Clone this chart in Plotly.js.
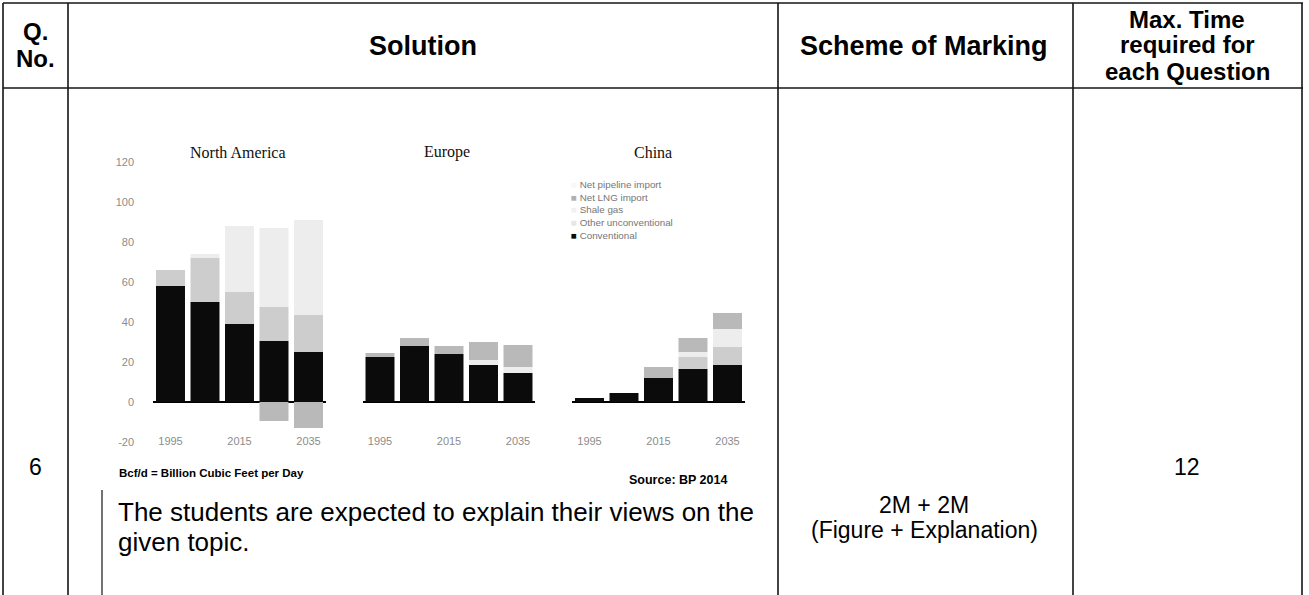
<!DOCTYPE html>
<html>
<head>
<meta charset="utf-8">
<script src="https://cdn.plot.ly/plotly-3.0.1.min.js"></script>
<style>html,body{margin:0;padding:0;background:#fff;}#chart{width:1309px;height:595px;}</style>
</head>
<body>
<div id="chart"></div>
<script>
// ---------- data (Bcf/d) ----------
const years = ['1995', '2005', '2015', '2025', '2035'];
const yearTicks = ['1995', '2015', '2035'];
const yTickVals = [-20, 0, 20, 40, 60, 80, 100, 120];
const yTickText = ['-20', '0', '20', '40', '60', '80', '100', '120'];
const regions = ['North America', 'Europe', 'China'];
const seriesNames = ['Net pipeline import', 'Net LNG import', 'Shale gas', 'Other unconventional', 'Conventional'];

const naConventional = [58, 50, 39, 30.5, 25];
const naOtherUnconv  = [8, 22, 16, 17, 18.5];
const naShale        = [0, 2, 33, 39.5, 47.5];
const naLNG          = [0, 0, 0, -9.5, -13];
const naPipeline     = [0, 0, 0, 0, 0];

const euConventional = [22.5, 28, 24, 18.5, 14.5];
const euOtherUnconv  = [0, 0, 0, 0, 0];
const euShale        = [0, 0, 0, 2.5, 3];
const euLNG          = [2, 4, 4, 9, 11];
const euPipeline     = [0, 0, 0, 0, 0];

const cnConventional = [2, 4.5, 12, 16.5, 18.5];
const cnOtherUnconv  = [0, 0, 0, 6, 9];
const cnShale        = [0, 0, 0, 2.5, 9];
const cnLNG          = [0, 0, 5.5, 7, 8];
const cnPipeline     = [0, 0, 0, 0, 0];

const headerQ = ['Q.', 'No.'];
const headerSolution = 'Solution';
const headerScheme = 'Scheme of Marking';
const headerTime = ['Max. Time', 'required for', 'each Question'];
const rowNumber = '6';
const rowScheme = ['2M + 2M', '(Figure + Explanation)'];
const rowTime = '12';
const bodyLines = ['The students are expected to explain their views on the', 'given topic.'];
const unitNote = 'Bcf/d = Billion Cubic Feet per Day';
const sourceNote = 'Source: BP 2014';

// ---------- styling ----------
const W = 1309, H = 595;
const fx = p => p / W;
const fy = p => 1 - p / H;
const SANS = 'Liberation Sans, Arial, sans-serif';
const colors = {
  'Conventional': '#0b0b0b',
  'Other unconventional': '#cdcdcd',
  'Shale gas': '#ededed',
  'Net LNG import': '#b9b9b9',
  'Net pipeline import': '#fbfbfb'
};
const legendSwatch = {
  'Conventional': '#0b0b0b',
  'Other unconventional': '#e6e6e6',
  'Shale gas': '#f2f2f2',
  'Net LNG import': '#b0b0b0',
  'Net pipeline import': '#f7f7f7'
};

const regionData = [
  {xa: 'x',  v: {'Conventional': naConventional, 'Other unconventional': naOtherUnconv, 'Shale gas': naShale, 'Net LNG import': naLNG, 'Net pipeline import': naPipeline}},
  {xa: 'x2', v: {'Conventional': euConventional, 'Other unconventional': euOtherUnconv, 'Shale gas': euShale, 'Net LNG import': euLNG, 'Net pipeline import': euPipeline}},
  {xa: 'x3', v: {'Conventional': cnConventional, 'Other unconventional': cnOtherUnconv, 'Shale gas': cnShale, 'Net LNG import': cnLNG, 'Net pipeline import': cnPipeline}}
];
const stackOrder = seriesNames.slice().reverse(); // bottom to top

const traces = [];
regionData.forEach(r => {
  stackOrder.forEach(name => {
    traces.push({
      type: 'bar', name: name, x: years, y: r.v[name],
      xaxis: r.xa, yaxis: 'y',
      marker: {color: colors[name], line: {width: 0}},
      showlegend: false, hoverinfo: 'skip'
    });
  });
});

const tickFont = {family: SANS, size: 11, color: '#8c8c8c'};
function xAxis(l, r) {
  return {
    domain: [fx(l), fx(r)], anchor: 'y', type: 'category',
    tickmode: 'array', tickvals: yearTicks, ticktext: yearTicks,
    showgrid: false, zeroline: false, showline: false, ticks: '',
    tickfont: tickFont, ticklabelstandoff: -9, fixedrange: true
  };
}

const lineColor = '#141414';
const shapes = [];
function hline(y, x0, x1, w) { shapes.push({type: 'line', xref: 'paper', yref: 'paper', x0: fx(x0), x1: fx(x1), y0: fy(y), y1: fy(y), line: {color: lineColor, width: w || 1.6}}); }
function vline(x, y0, y1, w) { shapes.push({type: 'line', xref: 'paper', yref: 'paper', x0: fx(x), x1: fx(x), y0: fy(y0), y1: fy(y1), line: {color: lineColor, width: w || 1.6}}); }
hline(3, 3, 1303);
hline(88, 3, 1303);
[3, 68, 778, 1073, 1302].forEach(x => vline(x, 3, 600));
vline(102, 490, 600, 1.2);

const annotations = [];
function ann(text, x, y, o) {
  annotations.push(Object.assign({text: text, xref: 'paper', yref: 'paper', x: fx(x), y: fy(y), showarrow: false,
    xanchor: 'center', yanchor: 'middle', borderpad: 0, font: {family: SANS, size: 19, color: '#000'}}, o || {}));
}
const hdrFont = {family: SANS, size: 27, color: '#000', weight: 'bold'};
const hdrFontSmall = {family: SANS, size: 24, color: '#000', weight: 'bold'};
ann('<b>' + headerQ[0] + '</b>', 35, 31, {font: hdrFontSmall});
ann('<b>' + headerQ[1] + '</b>', 35, 59, {font: hdrFontSmall});
ann('<b>' + headerSolution + '</b>', 423, 46, {font: hdrFont});
ann('<b>' + headerScheme + '</b>', 924, 46, {font: hdrFont});
headerTime.forEach((t, i) => ann('<b>' + t + '</b>', 1187, 19 + i * 26, {font: hdrFontSmall}));

const cellFont = {family: SANS, size: 23, color: '#000'};
ann(rowNumber, 35, 467, {font: cellFont});
ann(rowScheme[0], 924, 505, {font: {family: SANS, size: 23, color: '#000'}});
ann(rowScheme[1], 924, 530, {font: {family: SANS, size: 23, color: '#000'}});
ann(rowTime, 1187, 467, {font: cellFont});
ann(bodyLines[0], 117, 512, {xanchor: 'left', font: {family: SANS, size: 26, color: '#000'}});
ann(bodyLines[1], 117, 542, {xanchor: 'left', font: {family: SANS, size: 26, color: '#000'}});
ann('<b>' + unitNote + '</b>', 118, 473, {xanchor: 'left', font: {family: SANS, size: 11.5, color: '#000'}});
ann('<b>' + sourceNote + '</b>', 628, 480, {xanchor: 'left', font: {family: SANS, size: 12.5, color: '#000'}});

// panel titles
const titleX = [238, 447, 653];
regions.forEach((r, i) => ann(r, titleX[i], 152, {font: {family: 'Liberation Serif, DejaVu Serif, serif', size: 16, color: '#111'}}));

// legend (China panel), one block of lines
const legendText = seriesNames.map(n => '<span style="color:' + legendSwatch[n] + '">■</span> ' + n).join('<br>');
ann(legendText, 570, 210, {xanchor: 'left', align: 'left', font: {family: SANS, size: 9.8, color: '#767676'}});

const layout = {
  width: W, height: H,
  margin: {l: 0, r: 0, t: 0, b: 0},
  paper_bgcolor: '#fff', plot_bgcolor: 'rgba(0,0,0,0)',
  barmode: 'relative', bargap: 0.16,
  showlegend: false,
  xaxis: xAxis(153.25, 325.75),
  xaxis2: xAxis(362.75, 535.25),
  xaxis3: xAxis(572.25, 744.75),
  yaxis: {
    domain: [fy(442), fy(162)], range: [-20, 120], anchor: 'x',
    tickmode: 'array', tickvals: yTickVals, ticktext: yTickText,
    ticks: 'outside', ticklen: 16, tickcolor: 'rgba(0,0,0,0)',
    showgrid: false, showline: false,
    zeroline: true, zerolinecolor: '#000', zerolinewidth: 2,
    layer: 'above traces', tickfont: tickFont, fixedrange: true
  },
  shapes: shapes,
  annotations: annotations
};

Plotly.newPlot('chart', traces, layout, {displayModeBar: false, staticPlot: true});
</script>
</body>
</html>
